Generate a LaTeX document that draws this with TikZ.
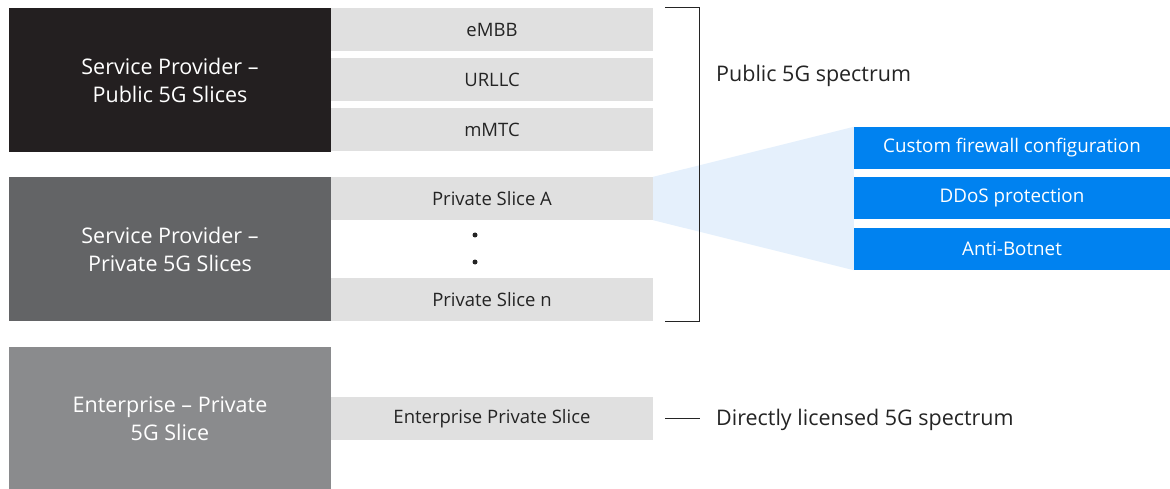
\documentclass[tikz,border=0pt]{standalone}
\usepackage{fontspec}
\setmainfont{Open Sans}
\usetikzlibrary{calc,positioning}
\definecolor{spdark}{HTML}{231F20}
\definecolor{spmid}{HTML}{636466}
\definecolor{entgray}{HTML}{8A8B8D}
\definecolor{slicegray}{HTML}{E0E0E0}
\definecolor{textdark}{HTML}{242424}
\definecolor{featblue}{HTML}{0082F0}
\definecolor{wedgeblue}{HTML}{E5F0FC}

\begin{document}
\begin{tikzpicture}[x=1pt,y=-1pt,
      owner/.style={minimum width=322pt,minimum height=144pt,inner sep=0pt,align=center,text=white,font=\fontsize{21.5}{28}\selectfont},
      slice/.style={fill=slicegray,minimum width=322pt,minimum height=43pt,inner sep=0pt,text=textdark,font=\fontsize{18.5}{20}\selectfont},
      feature/.style={fill=featblue,minimum width=316pt,minimum height=42pt,inner sep=0pt,text=white,font=\fontsize{18.8}{20}\selectfont},
      spectrum/.style={anchor=west,inner sep=0pt,text=textdark,font=\fontsize{21.5}{24}\selectfont},
      vdot/.style={circle,fill=textdark,inner sep=0pt,minimum size=5pt}
    ]
      \useasboundingbox (0,0) rectangle (1170,489);
      \node[owner,fill=spdark] (pub) at (170,80) {Service Provider --\\Public 5G Slices};
      \node[owner,fill=spmid] (priv) at (170,249) {Service Provider --\\Private 5G Slices};
      \node[owner,fill=entgray] (ent) at (170,419) {Enterprise -- Private\\5G Slice};
      \node[slice] (embb) at (492,29.5) {eMBB};
      \node[slice] (urllc) at (492,79.5) {URLLC};
      \node[slice] (mmtc) at (492,129.5) {mMTC};
      \node[slice] (sla) at (492,198.5) {Private Slice A};
      \node[vdot] (dota) at (475,235) {};
      \node[vdot] (dotb) at (475,262) {};
      \node[slice] (sln) at (492,299.5) {Private Slice n};
      \node[slice] (esl) at (492,418.5) {Enterprise Private Slice};
      \node[feature] (fw) at (1012,148) {Custom firewall configuration};
      \node[feature] (ddos) at (1012,198) {DDoS protection};
      \node[feature] (bot) at (1012,249) {Anti-Botnet};
      % zoom wedge from slice A to its features
      \fill[wedgeblue] (sla.north east) -- (fw.north west) -- (bot.south west) -- (sla.south east) -- cycle;
      \coordinate (brtop) at ($(embb.north east)+(12,0)$);
      \coordinate (brbot) at ($(sln.south east)+(12,0)$);
      \draw[textdark,line width=0.9pt] (brtop) -- ++(34,0) |- (brbot);
      \node[spectrum] (pubspec) at (716,76) {Public 5G spectrum};
      \node[spectrum] (licspec) at (716,420) {Directly licensed 5G spectrum};
      \coordinate (licend) at ($(esl.east)+(12,0)$);
      \coordinate (licstart) at ($(licspec.west)+(-16,0)$);
      \draw[textdark,line width=0.9pt] (licend) -- (licend -| licstart);
    \end{tikzpicture}
\end{document}
